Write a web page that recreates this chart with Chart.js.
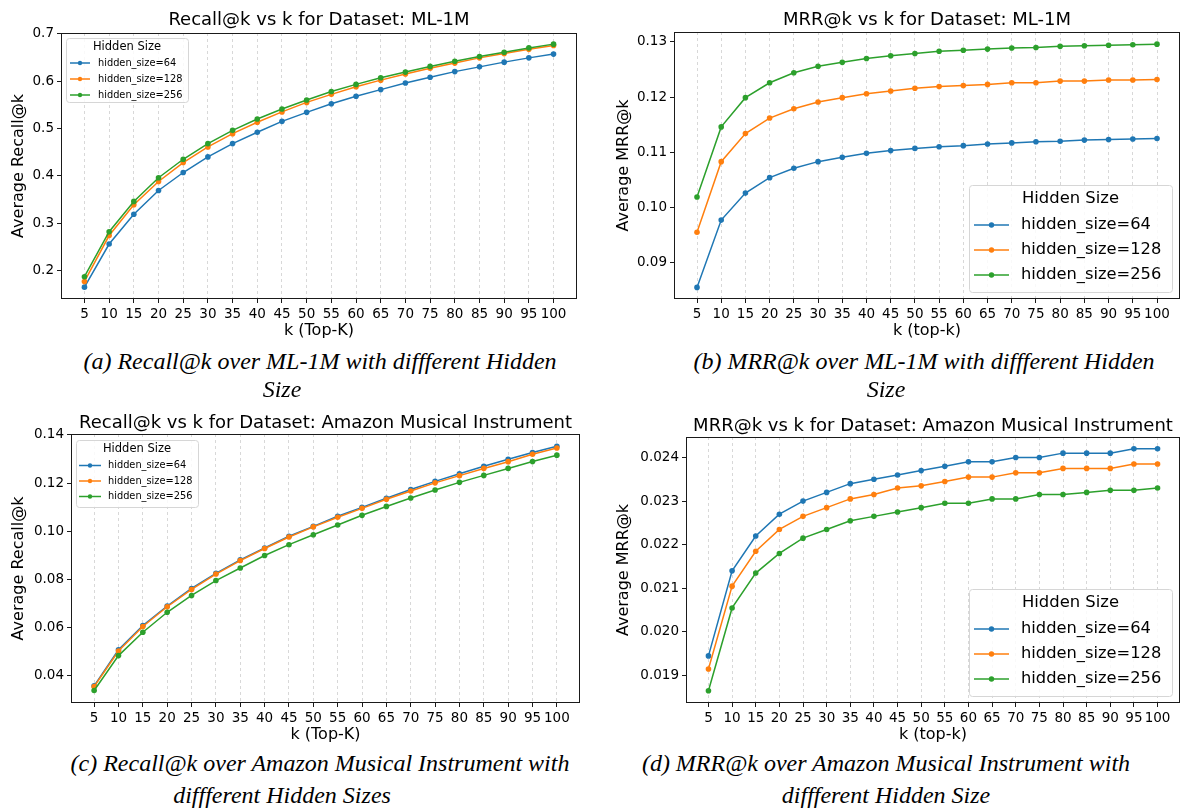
<!DOCTYPE html>
<html>
<head>
<meta charset="utf-8">
<title>Recall@k and MRR@k by hidden size</title>
<script src="https://cdn.jsdelivr.net/npm/chart.js@4.4.1/dist/chart.umd.min.js"></script>
<style>
  html, body { margin: 0; padding: 0; background: #fff; }
  body { position: relative; width: 1184px; height: 810px; overflow: hidden; }
  canvas { position: absolute; }
  .cap {
    position: absolute;
    transform: translate(-50%, -50%);
    white-space: nowrap;
    font-family: "Liberation Serif", "Times New Roman", serif;
    font-style: italic;
    font-size: 24px;
    color: #000;
  }
</style>
</head>
<body>
<canvas id="recallMl" width="600" height="345" style="left:0;top:0"></canvas>
<canvas id="mrrMl" width="584" height="345" style="left:600px;top:0"></canvas>
<canvas id="recallAm" width="600" height="349" style="left:0;top:400px"></canvas>
<canvas id="mrrAm" width="584" height="349" style="left:600px;top:400px"></canvas>

<div class="cap" style="left:320px;top:361px">(a) Recall@k over ML-1M with diffferent Hidden</div>
<div class="cap" style="left:282px;top:389px">Size</div>
<div class="cap" style="left:924px;top:361px">(b) MRR@k over ML-1M with diffferent Hidden</div>
<div class="cap" style="left:886px;top:389px">Size</div>
<div class="cap" style="left:320px;top:763px">(c) Recall@k over Amazon Musical Instrument with</div>
<div class="cap" style="left:282px;top:795px">diffferent Hidden Sizes</div>
<div class="cap" style="left:886px;top:763px">(d) MRR@k over Amazon Musical Instrument with</div>
<div class="cap" style="left:886px;top:795px">diffferent Hidden Size</div>

<script>
const kValues = [5, 10, 15, 20, 25, 30, 35, 40, 45, 50, 55, 60, 65, 70, 75, 80, 85, 90, 95, 100];
const sizeLabels = ["hidden_size=64", "hidden_size=128", "hidden_size=256"];
const sizeColors = ["#1f77b4", "#ff7f0e", "#2ca02c"];

// ML-1M
const recallMl64 = [0.165, 0.256, 0.319, 0.369, 0.407, 0.440, 0.468, 0.492, 0.515, 0.534, 0.552, 0.568, 0.582, 0.596, 0.608, 0.620, 0.630, 0.640, 0.649, 0.657];
const recallMl128 = [0.177, 0.274, 0.339, 0.388, 0.428, 0.461, 0.489, 0.513, 0.535, 0.555, 0.572, 0.588, 0.602, 0.615, 0.627, 0.638, 0.649, 0.658, 0.667, 0.675];
const recallMl256 = [0.187, 0.282, 0.346, 0.396, 0.435, 0.468, 0.496, 0.520, 0.541, 0.560, 0.578, 0.593, 0.607, 0.619, 0.631, 0.642, 0.652, 0.661, 0.670, 0.678];
const mrrMl64 = [0.0855, 0.0977, 0.1026, 0.1054, 0.1071, 0.1083, 0.1091, 0.1098, 0.1103, 0.1107, 0.1110, 0.1112, 0.1115, 0.1117, 0.1119, 0.1120, 0.1122, 0.1123, 0.1124, 0.1125];
const mrrMl128 = [0.0955, 0.1083, 0.1134, 0.1162, 0.1179, 0.1191, 0.1199, 0.1206, 0.1211, 0.1216, 0.1219, 0.1221, 0.1223, 0.1226, 0.1226, 0.1229, 0.1229, 0.1231, 0.1231, 0.1232];
const mrrMl256 = [0.1019, 0.1146, 0.1199, 0.1226, 0.1244, 0.1256, 0.1263, 0.1270, 0.1275, 0.1279, 0.1283, 0.1285, 0.1287, 0.1289, 0.1290, 0.1292, 0.1293, 0.1294, 0.1295, 0.1296];

// Amazon Musical Instrument
const recallAm64 = [0.0357, 0.0507, 0.0608, 0.0689, 0.0762, 0.0825, 0.0881, 0.0930, 0.0979, 0.1020, 0.1062, 0.1099, 0.1137, 0.1173, 0.1207, 0.1239, 0.1270, 0.1299, 0.1327, 0.1353];
const recallAm128 = [0.0354, 0.0502, 0.0604, 0.0686, 0.0758, 0.0822, 0.0878, 0.0928, 0.0976, 0.1018, 0.1058, 0.1095, 0.1133, 0.1167, 0.1201, 0.1231, 0.1261, 0.1289, 0.1320, 0.1346];
const recallAm256 = [0.0338, 0.0483, 0.0580, 0.0663, 0.0733, 0.0795, 0.0847, 0.0899, 0.0944, 0.0985, 0.1026, 0.1066, 0.1103, 0.1138, 0.1171, 0.1203, 0.1232, 0.1261, 0.1290, 0.1316];
const mrrAm64 = [0.01945, 0.0214, 0.0222, 0.0227, 0.0230, 0.0232, 0.0234, 0.0235, 0.0236, 0.0237, 0.0238, 0.0239, 0.0239, 0.0240, 0.0240, 0.0241, 0.0241, 0.0241, 0.0242, 0.0242];
const mrrAm128 = [0.01915, 0.02105, 0.02185, 0.02235, 0.02265, 0.02285, 0.02305, 0.02315, 0.0233, 0.02335, 0.02345, 0.02355, 0.02355, 0.02365, 0.02365, 0.02375, 0.02375, 0.02375, 0.02385, 0.02385];
const mrrAm256 = [0.01865, 0.02055, 0.02135, 0.0218, 0.02215, 0.02235, 0.02255, 0.02265, 0.02275, 0.02285, 0.02295, 0.02295, 0.02305, 0.02305, 0.02315, 0.02315, 0.0232, 0.02325, 0.02325, 0.0233];

const recallMlTicks = [0.2, 0.3, 0.4, 0.5, 0.6, 0.7];
const mrrMlTicks = [0.09, 0.10, 0.11, 0.12, 0.13];
const recallAmTicks = [0.04, 0.06, 0.08, 0.10, 0.12, 0.14];
const mrrAmTicks = [0.019, 0.020, 0.021, 0.022, 0.023, 0.024];

Chart.defaults.font.family = '"DejaVu Sans", sans-serif';
Chart.defaults.color = "#000";

// axes frame, centred title and a boxed legend, drawn straight on the canvas
const panelDecor = {
  id: "panelDecor",
  afterDatasetsDraw(chart, args, opts) {
    const { ctx, chartArea: a } = chart;
    ctx.save();
    ctx.strokeStyle = "#1a1a1a";
    ctx.lineWidth = 1;
    ctx.strokeRect(a.left + 0.5, a.top + 0.5, a.width - 1, a.height - 1);

    ctx.fillStyle = "#000";
    ctx.textAlign = "center";
    ctx.textBaseline = "middle";
    ctx.font = '18px "DejaVu Sans"';
    ctx.fillText(opts.title, (a.left + a.right) / 2, a.top - opts.titleGap);

    const lg = opts.legend;
    const bx = lg.corner === "tl" ? a.left + lg.dx : a.right - lg.dx - lg.w;
    const by = lg.corner === "tl" ? a.top + lg.dy : a.bottom - lg.dy - lg.h;
    ctx.beginPath();
    ctx.roundRect(bx + 0.5, by + 0.5, lg.w, lg.h, 3);
    ctx.fillStyle = "rgba(255,255,255,0.85)";
    ctx.fill();
    ctx.strokeStyle = "#d6d6d6";
    ctx.stroke();

    ctx.fillStyle = "#000";
    ctx.font = lg.titleSize + 'px "DejaVu Sans"';
    ctx.fillText("Hidden Size", bx + lg.w / 2, by + lg.titleY);

    ctx.textAlign = "left";
    ctx.font = lg.fontSize + 'px "DejaVu Sans"';
    chart.data.datasets.forEach((ds, i) => {
      const y = by + lg.rowY + i * lg.rowGap;
      const x0 = bx + lg.handleX;
      ctx.strokeStyle = ds.borderColor;
      ctx.lineWidth = 1.5;
      ctx.beginPath();
      ctx.moveTo(x0, y);
      ctx.lineTo(x0 + lg.handleLen, y);
      ctx.stroke();
      ctx.fillStyle = ds.borderColor;
      ctx.beginPath();
      ctx.arc(x0 + lg.handleLen / 2, y, lg.dot, 0, Math.PI * 2);
      ctx.fill();
      ctx.fillStyle = "#000";
      ctx.fillText(ds.label, bx + lg.textX, y);
    });
    ctx.restore();
  },
};

const makePanel = (canvasId, cfg) => {
  new Chart(document.getElementById(canvasId), {
    type: "line",
    data: {
      datasets: cfg.series.map((values, i) => ({
        label: sizeLabels[i],
        data: values.map((v, j) => ({ x: kValues[j], y: v })),
        borderColor: sizeColors[i],
        backgroundColor: sizeColors[i],
        borderWidth: 1.5,
        pointRadius: 2.8,
        pointBorderWidth: 0,
        tension: 0,
        order: cfg.series.length - i,
      })),
    },
    options: {
      responsive: false,
      animation: false,
      layout: { padding: { top: cfg.top, right: cfg.right, left: 0, bottom: 0 } },
      scales: {
        x: {
          type: "linear",
          min: 0.25,
          max: 104.75,
          afterBuildTicks: (axis) => {
            axis.ticks = kValues.map((v) => ({ value: v }));
          },
          afterFit: (axis) => {
            axis.height = 46;
          },
          ticks: {
            autoSkip: false,
            maxRotation: 0,
            minRotation: 0,
            padding: 3,
            font: { size: 13.5 },
            callback: (v) => String(v),
          },
          grid: {
            color: "#cfcfcf",
            lineWidth: 0.8,
            tickLength: 4,
            tickColor: "#1a1a1a",
            tickWidth: 1,
            tickBorderDash: [],
          },
          border: { display: false, dash: [3, 3] },
          title: {
            display: true,
            text: cfg.xTitle,
            font: { size: 16 },
            padding: { top: 0, bottom: 5 },
          },
        },
        y: {
          min: cfg.yMin,
          max: cfg.yMax,
          afterBuildTicks: (axis) => {
            axis.ticks = cfg.yTicks.map((v) => ({ value: v }));
          },
          afterFit: (axis) => {
            axis.width = cfg.yWidth;
          },
          ticks: {
            padding: 3,
            font: { size: 13.5 },
            callback: (v) => v.toFixed(cfg.digits),
          },
          grid: {
            drawOnChartArea: false,
            tickLength: 4,
            tickColor: "#1a1a1a",
            tickWidth: 1,
          },
          border: { display: false },
          title: {
            display: true,
            text: cfg.yTitle,
            font: { size: 16 },
            padding: { top: cfg.yTitlePad, bottom: 0 },
          },
        },
      },
      plugins: {
        legend: { display: false },
        tooltip: { enabled: false },
        panelDecor: { title: cfg.title, titleGap: cfg.titleGap, legend: cfg.legend },
      },
    },
    plugins: [panelDecor],
  });
};

const smallLegend = {
  corner: "tl", dx: 5, dy: 5, w: 122, h: 64, titleSize: 11.5, fontSize: 9.8,
  titleY: 9, rowY: 25, rowGap: 16, handleX: 4, handleLen: 20, dot: 2.2, textX: 32,
};
const largeLegend = {
  corner: "br", dx: 8, dy: 7, w: 203, h: 107, titleSize: 16.4, fontSize: 16.3,
  titleY: 14, rowY: 40, rowGap: 25, handleX: 5, handleLen: 35, dot: 2.7, textX: 52,
};

makePanel("recallMl", {
  title: "Recall@k vs k for Dataset: ML-1M",
  titleGap: 13,
  series: [recallMl64, recallMl128, recallMl256],
  yMin: 0.14, yMax: 0.7015, yTicks: recallMlTicks, digits: 1,
  yTitle: "Average Recall@k", xTitle: "k (Top-K)",
  top: 33, right: 23, yWidth: 61, yTitlePad: 9,
  legend: smallLegend,
});

makePanel("mrrMl", {
  title: "MRR@k vs k for Dataset: ML-1M",
  titleGap: 12,
  series: [mrrMl64, mrrMl128, mrrMl256],
  yMin: 0.0834, yMax: 0.1318, yTicks: mrrMlTicks, digits: 2,
  yTitle: "Average MRR@k", xTitle: "k (top-k)",
  top: 32, right: 1, yWidth: 74, yTitlePad: 14,
  legend: largeLegend,
});

makePanel("recallAm", {
  title: "Recall@k vs k for Dataset: Amazon Musical Instrument",
  titleGap: 11,
  series: [recallAm64, recallAm128, recallAm256],
  yMin: 0.0286, yMax: 0.1404, yTicks: recallAmTicks, digits: 2,
  yTitle: "Average Recall@k", xTitle: "k (Top-K)",
  top: 34, right: 20, yWidth: 71, yTitlePad: 9,
  legend: { ...smallLegend, dy: 6, h: 67, titleY: 9, rowY: 25.5, rowGap: 15.5, handleX: 3, handleLen: 22 },
});

makePanel("mrrAm", {
  title: "MRR@k vs k for Dataset: Amazon Musical Instrument",
  titleGap: 11,
  series: [mrrAm64, mrrAm128, mrrAm256],
  yMin: 0.01837, yMax: 0.02447, yTicks: mrrAmTicks, digits: 3,
  yTitle: "Average MRR@k", xTitle: "k (top-k)",
  top: 37, right: 1, yWidth: 86, yTitlePad: 14,
  legend: largeLegend,
});
</script>
</body>
</html>
